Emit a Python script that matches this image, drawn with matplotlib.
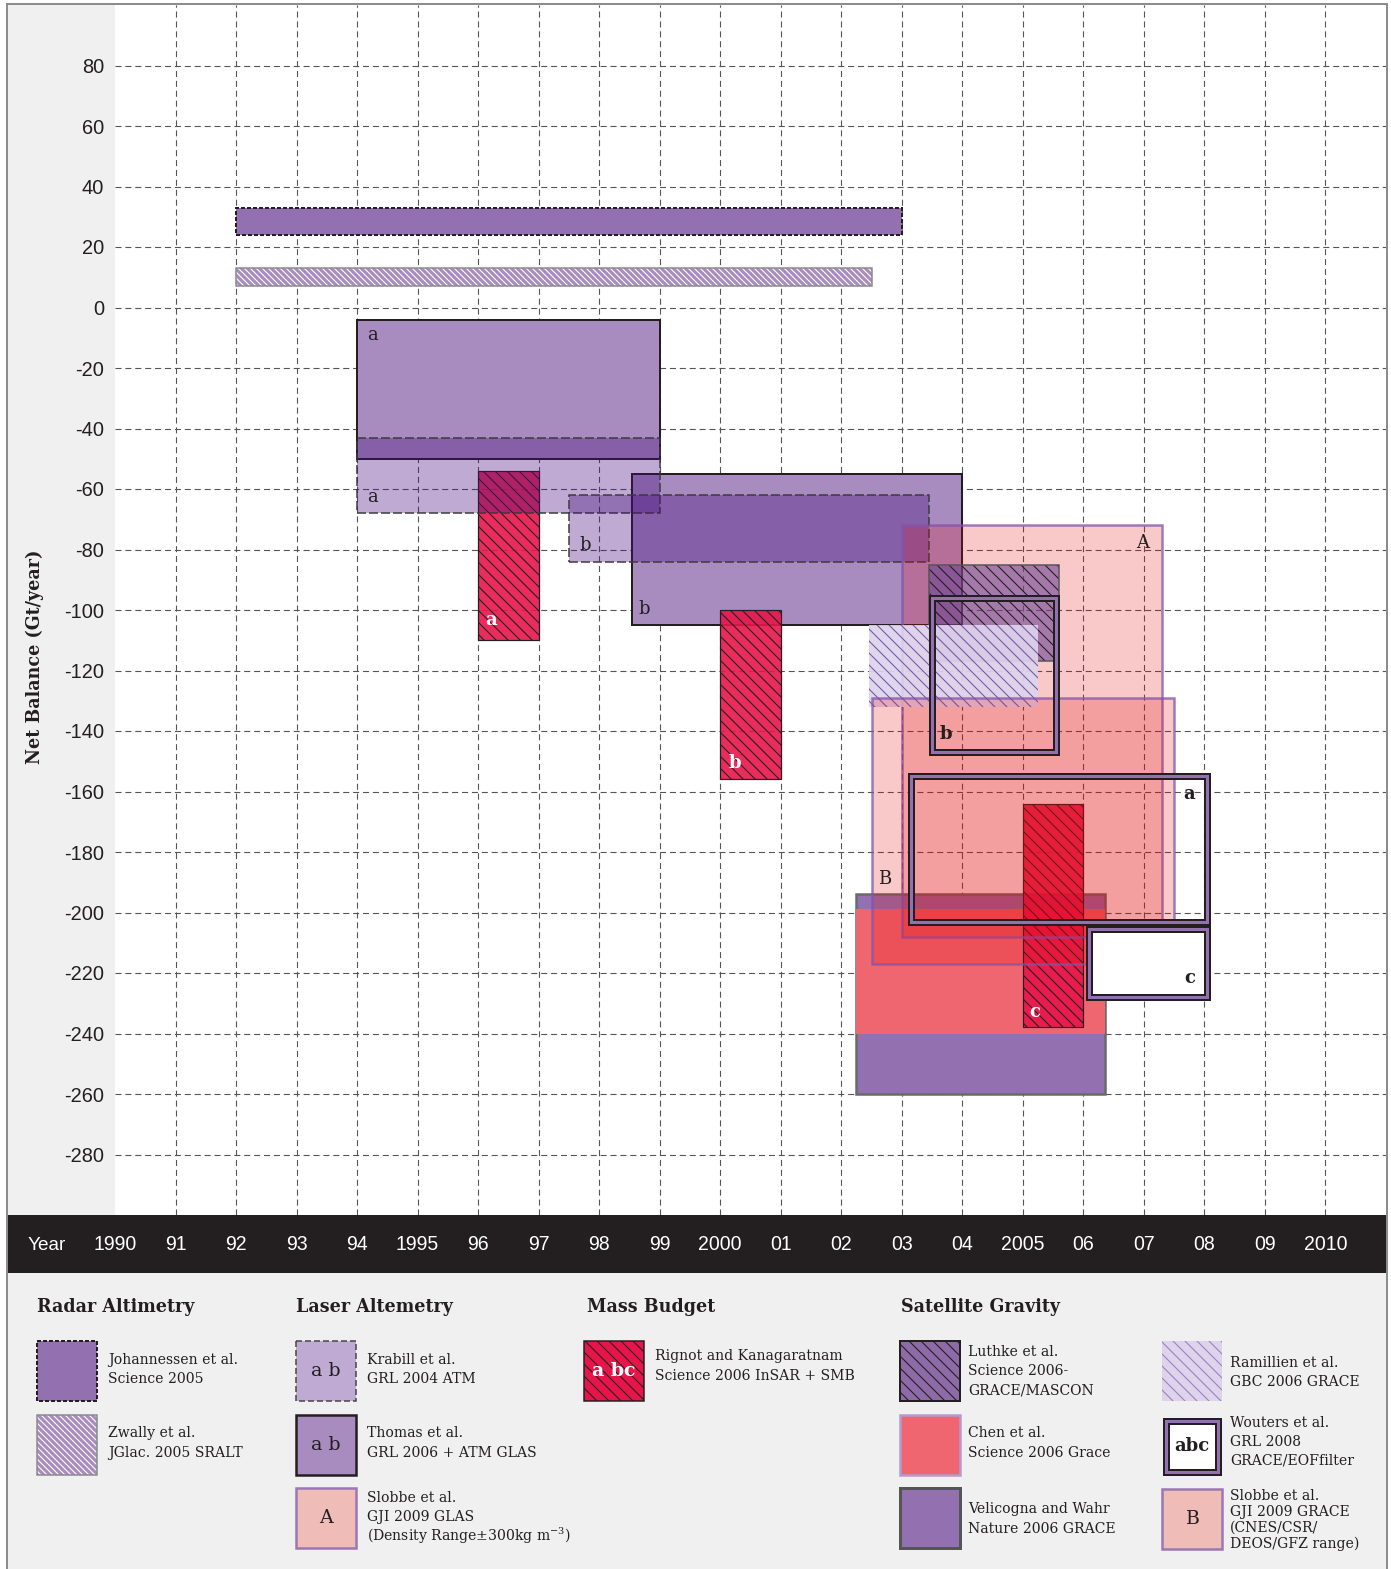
import matplotlib
matplotlib.use('Agg')
import matplotlib.pyplot as plt
from matplotlib.patches import Rectangle
from matplotlib.transforms import blended_transform_factory

# ---- data: year span and net balance range (Gt/yr) of each estimate ----
johannessen_years = [1992.0, 2003.0]
johannessen_gt = [24, 33]
zwally_years = [1992.0, 2002.5]
zwally_gt = [7, 13]

krabill_years = [[1994.0, 1999.0], [1997.5, 2003.45]]
krabill_gt = [[-68, -43], [-84, -62]]
krabill_tags = ['a', 'b']

thomas_years = [[1994.0, 1999.0], [1998.55, 2004.0]]
thomas_gt = [[-50, -4], [-105, -55]]
thomas_tags = ['a', 'b']

rignot_years = [[1996.0, 1997.0], [2000.0, 2001.0], [2005.0, 2006.0]]
rignot_gt = [[-110, -54], [-156, -100], [-238, -164]]
rignot_tags = ['a', 'b', 'c']

slobbe_years = [[2003.0, 2007.3], [2002.5, 2007.5]]
slobbe_gt = [[-208, -72], [-217, -129]]
slobbe_tags = ['A', 'B']

luthke_years = [2003.45, 2005.6]
luthke_gt = [-117, -85]
ramillien_years = [2002.45, 2005.25]
ramillien_gt = [-132, -105]
velicogna_years = [2002.25, 2006.35]
velicogna_gt = [-260, -194]
chen_years = [2002.25, 2006.35]
chen_gt = [-240, -199]

wouters_years = [[2003.15, 2008.05], [2003.5, 2005.55], [2006.1, 2008.05]]
wouters_gt = [[-203, -155], [-147, -96], [-228, -205.5]]
wouters_tags = ['a', 'b', 'c']

years = list(range(1990, 2011))
year_labels = ['1990', '91', '92', '93', '94', '1995', '96', '97', '98', '99',
               '2000', '01', '02', '03', '04', '2005', '06', '07', '08', '09', '2010']
yticks = list(range(-280, 81, 20))

# ---- style ----
W, H, DPI = 1391, 1569, 72
SERIF = 'DejaVu Serif'
SANS = 'Liberation Sans'
INK = '#231f20'
plt.rcParams['axes.unicode_minus'] = False
plt.rcParams['hatch.linewidth'] = 1.1
plt.rcParams['mathtext.fontset'] = 'dejavuserif'

fig = plt.figure(figsize=(W / DPI, H / DPI), dpi=DPI, facecolor='white')

# background frame, year band and legend live in a pixel-space axes
bg = fig.add_axes([0, 0, 1, 1])
bg.set_xlim(0, W)
bg.set_ylim(H, 0)
bg.axis('off')
bg.add_patch(Rectangle((7, 4), 1380, H, facecolor='#f0f0f0', edgecolor='#8c8c8c', lw=2))
bg.add_patch(Rectangle((8, 1215), 1378, 58, facecolor=INK, edgecolor='none'))
bg.text(47, 1245, 'Year', color='white', fontsize=19, fontfamily=SANS, ha='center', va='center')
bg.text(35, 657, 'Net Balance (Gt/year)', rotation=90, fontsize=17.5, fontweight='bold',
        fontfamily=SERIF, color=INK, ha='center', va='center')

ax = fig.add_axes([115 / W, 1 - 1215 / H, (1386 - 115) / W, (1215 - 5) / H])
ax.set_xlim(1990, 2011)
ax.set_ylim(-300, 100)
for s in ax.spines.values():
    s.set_visible(False)
ax.set_xticks(years[1:])
ax.set_yticks(yticks)
ax.tick_params(length=0, labelsize=20, labelcolor=INK, pad=11)
ax.tick_params(axis='x', labelbottom=False)
for t in ax.get_yticklabels():
    t.set_fontfamily(SANS)
ax.grid(True, color='#555555', lw=1.1, ls=(0, (5.5, 3.5)))
ax.set_axisbelow(True)

tr = blended_transform_factory(ax.transData, fig.transFigure)
for yr, lab in zip(years, year_labels):
    ax.text(yr, 1 - 1245 / H, lab, transform=tr, ha='center', va='center',
            color='white', fontsize=19.5, fontfamily=SANS, clip_on=False)


def box(xs, ys, **kw):
    r = Rectangle((xs[0], ys[0]), xs[1] - xs[0], ys[1] - ys[0], **kw)
    ax.add_patch(r)
    return r


def tag(text, xs, ys, corner, dx, dy, **kw):
    x = xs[0] if corner[1] == 'l' else xs[1]
    y = ys[1] if corner[0] == 't' else ys[0]
    kw.setdefault('fontfamily', SERIF)
    kw.setdefault('fontsize', 18)
    kw.setdefault('color', INK)
    ax.annotate(text, (x, y), xytext=(dx, dy), textcoords='offset points',
                ha='center', va='center', **kw)


RIGNOT = (232 / 255, 21 / 255, 74 / 255, 0.9)
KRABILL = (69 / 255, 12 / 255, 126 / 255, 0.35)
SLOBBE = (228 / 255, 10 / 255, 10 / 255, 0.22)
SLOBBE_EDGE = (0.5, 0.33, 0.68, 0.75)

# radar altimetry
box(johannessen_years, johannessen_gt, facecolor='#9370b0', edgecolor=INK, lw=2, ls=(0, (2, 1)))
box(zwally_years, zwally_gt, facecolor='#a98bc2', edgecolor='white', hatch='\\\\\\\\', lw=0)
box(zwally_years, zwally_gt, fill=False, edgecolor='#8a8a8a', lw=1.5)

# satellite gravity underlay
box(velicogna_years, velicogna_gt, facecolor='#9370b0', edgecolor='#6a6a6a', lw=2.5)
box(chen_years, chen_gt, facecolor='#ef6670', edgecolor='none')

# laser altimetry (Thomas)
for xs, ys in zip(thomas_years, thomas_gt):
    box(xs, ys, facecolor='#a88cc0', edgecolor=INK, lw=2)

# mass budget
for xs, ys in zip(rignot_years, rignot_gt):
    box(xs, ys, facecolor=RIGNOT, edgecolor=INK, hatch='\\\\', lw=0)
    box(xs, ys, fill=False, edgecolor=INK, lw=1.2)

# laser altimetry (Krabill)
for xs, ys in zip(krabill_years, krabill_gt):
    box(xs, ys, facecolor=KRABILL, edgecolor='#3a3a3a', lw=1.5, ls=(0, (6, 2)))

box(slobbe_years[0], slobbe_gt[0], facecolor=SLOBBE, edgecolor=SLOBBE_EDGE, lw=2.5)

box(luthke_years, luthke_gt, facecolor=(110 / 255, 70 / 255, 150 / 255, 0.6),
    edgecolor=INK, hatch='\\\\', lw=0)
box(luthke_years, luthke_gt, fill=False, edgecolor='#555555', lw=1.5)

box(ramillien_years, ramillien_gt, facecolor=(221 / 255, 212 / 255, 236 / 255, 0.92),
    edgecolor=(120 / 255, 90 / 255, 170 / 255), hatch='\\\\', lw=0)

box(slobbe_years[1], slobbe_gt[1], facecolor=SLOBBE, edgecolor=SLOBBE_EDGE, lw=2.5)

# Wouters (double frame)
for i, (xs, ys) in enumerate(zip(wouters_years, wouters_gt)):
    fc = 'white' if i == 2 else 'none'
    box(xs, ys, facecolor=fc, edgecolor=INK, lw=7, joinstyle='miter')
    box(xs, ys, fill=False, edgecolor='#9370b0', lw=3, joinstyle='miter')

# tags
tag(thomas_tags[0], thomas_years[0], thomas_gt[0], 'tl', 15, -15)
tag(thomas_tags[1], thomas_years[1], thomas_gt[1], 'bl', 12, 16)
tag(krabill_tags[0], krabill_years[0], krabill_gt[0], 'bl', 15, 16)
tag(krabill_tags[1], krabill_years[1], krabill_gt[1], 'bl', 16, 17)
for t, xs, ys, off in zip(rignot_tags, rignot_years, rignot_gt, [(13, 20), (15, 16), (12, 15)]):
    tag(t, xs, ys, 'bl', off[0], off[1], color='white', fontweight='bold')
tag(slobbe_tags[0], slobbe_years[0], slobbe_gt[0], 'tr', -19, -18)
tag(slobbe_tags[1], slobbe_years[1], slobbe_gt[1], 'bl', 13, 85)
tag(wouters_tags[0], wouters_years[0], wouters_gt[0], 'tr', -18, -18, fontweight='bold')
tag(wouters_tags[1], wouters_years[1], wouters_gt[1], 'bl', 14, 18, fontweight='bold')
tag(wouters_tags[2], wouters_years[2], wouters_gt[2], 'br', -18, 19, fontweight='bold')

# ---- legend (pixel layout) ----
for x, head in [(37, 'Radar Altimetry'), (296, 'Laser Altemetry'),
                (587, 'Mass Budget'), (901, 'Satellite Gravity')]:
    bg.text(x, 1307, head, fontsize=17.5, fontweight='bold', fontfamily=SERIF,
            color=INK, ha='left', va='center')


def lines(x, ys, texts):
    for y, t in zip(ys, texts):
        bg.text(x, y, t, fontsize=14, fontfamily=SERIF, color=INK, ha='left', va='center')


def swatch(x, y, w=60, h=60, label=None, lcolor=INK, lweight='normal', lsize=19, **kw):
    bg.add_patch(Rectangle((x, y), w, h, **kw))
    if label:
        bg.text(x + w / 2, y + h / 2, label, color=lcolor, fontweight=lweight,
                fontsize=lsize, fontfamily=SERIF, ha='center', va='center')


swatch(37, 1341, facecolor='#9370b0', edgecolor=INK, lw=2, ls=(0, (2, 1)))
lines(108, [1360, 1379], ['Johannessen et al.', 'Science 2005'])
swatch(37, 1415, facecolor='#a98bc2', edgecolor='white', hatch='\\\\\\\\', lw=0)
swatch(37, 1415, fill=False, edgecolor='#8a8a8a', lw=1.5)
lines(108, [1433, 1453], ['Zwally et al.', 'JGlac. 2005 SRALT'])

swatch(296, 1341, label='a b', facecolor='#bfaad3', edgecolor='#444444', lw=1.5, ls=(0, (4, 2)))
lines(367, [1360, 1379], ['Krabill et al.', 'GRL 2004 ATM'])
swatch(296, 1415, label='a b', facecolor='#a88cc0', edgecolor=INK, lw=2.5)
lines(367, [1433, 1453], ['Thomas et al.', 'GRL 2006 + ATM GLAS'])
swatch(296, 1488, label='A', facecolor='#efbcb8', edgecolor='#9b78b5', lw=2.5)
lines(367, [1498, 1517, 1536], ['Slobbe et al.', 'GJI 2009 GLAS',
                                r'(Density Range$\pm$300kg m$^{-3}$)'])

swatch(584, 1341, facecolor='#e8154a', edgecolor=INK, hatch='\\\\', lw=0)
swatch(584, 1341, label='a bc', lcolor='white', lweight='bold', fill=False, edgecolor=INK, lw=1.5)
lines(655, [1356, 1376], ['Rignot and Kanagaratnam', 'Science 2006 InSAR + SMB'])

swatch(900, 1341, facecolor='#8f6aa8', edgecolor=INK, hatch='\\\\', lw=0)
swatch(900, 1341, fill=False, edgecolor=INK, lw=2)
lines(968, [1352, 1371, 1390], ['Luthke et al.', 'Science 2006-', 'GRACE/MASCON'])
swatch(900, 1415, facecolor='#f06670', edgecolor='#b59ad0', lw=2.5)
lines(968, [1433, 1453], ['Chen et al.', 'Science 2006 Grace'])
swatch(900, 1488, facecolor='#9370b0', edgecolor='#555555', lw=3)
lines(968, [1509, 1529], ['Velicogna and Wahr', 'Nature 2006 GRACE'])

swatch(1162, 1341, facecolor='#ddd3ea', edgecolor='#9a82c4', hatch='\\\\', lw=0)
lines(1230, [1363, 1382], ['Ramillien et al.', 'GBC 2006 GRACE'])
swatch(1165.5, 1420.5, 52, 51, facecolor='white', edgecolor=INK, lw=7, joinstyle='miter')
swatch(1165.5, 1420.5, 52, 51, label='abc', lweight='bold', lsize=18,
       fill=False, edgecolor='#9370b0', lw=3, joinstyle='miter')
lines(1230, [1423, 1442, 1461], ['Wouters et al.', 'GRL 2008', 'GRACE/EOFfilter'])
swatch(1162, 1489, label='B', facecolor='#efbcb8', edgecolor='#9b78b5', lw=2.5)
lines(1230, [1496, 1512, 1528, 1544], ['Slobbe et al.', 'GJI 2009 GRACE',
                                      '(CNES/CSR/', 'DEOS/GFZ range)'])

fig.savefig('out.png', dpi=DPI, facecolor=fig.get_facecolor())
